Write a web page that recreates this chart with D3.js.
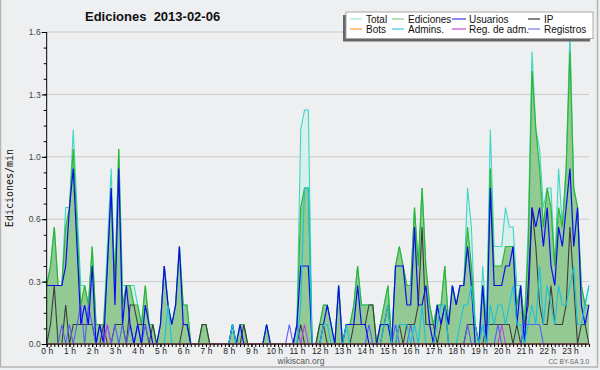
<!DOCTYPE html>
<html>
<head>
<meta charset="utf-8">
<script src="https://cdn.jsdelivr.net/npm/d3@7"></script>
<style>
  body { margin: 0; background: #eeeff1; }
  svg { display: block; }
</style>
</head>
<body>
<div id="chart-container"></div>
<script>
// edits per minute, one value every 10 minutes (6 per hour, 144 per day)
const total = [
    0.3, 0.4, 0.6, 0.3, 0.3, 0.7,   0.7, 1.1, 0.7, 0.3, 0.3, 0.2,
    0.5, 0.1, 0.1, 0.1, 0.5, 0.9,   0.3, 1.0, 0.3, 0.3, 0.3, 0.3,
    0.2, 0.1, 0.3, 0.1, 0.1, 0,     0.1, 0.4, 0.2, 0.1, 0.2, 0.5,
    0.2, 0.2, 0, 0, 0, 0.1,         0.1, 0, 0, 0, 0, 0,
    0, 0.1, 0, 0.1, 0.1, 0,         0, 0, 0, 0, 0.1, 0,
    0, 0, 0, 0, 0, 0,               0.1, 1.1, 1.2, 1.2, 0, 0,
    0.1, 0.2, 0.2, 0.1, 0, 0.3,     0, 0.1, 0.1, 0.2, 0.4, 0.2,
    0.2, 0.2, 0.2, 0, 0.1, 0.2,     0.3, 0, 0.4, 0.5, 0.4, 0.3,
    0.3, 0.7, 0.4, 0.8, 0.4, 0.2,   0.1, 0.2, 0.2, 0.4, 0.1, 0.3,
    0.2, 0.3, 0.3, 0.8, 0.6, 0.1,   0, 0.4, 0.1, 1.1, 0.5, 0.5,
    0.5, 0.7, 0.6, 0.6, 0.3, 0.3,   0.1, 0.6, 1.5, 1.1, 1.0, 0.7,
    0.8, 0.8, 0.4, 0.9, 0.6, 0.9,   1.6, 0.8, 0.7, 0.3, 0.2, 0.3
];
const ediciones = [
    0.3, 0.4, 0.6, 0.3, 0.3, 0.6,   0.7, 1.0, 0.6, 0.2, 0.3, 0.2,
    0.5, 0.1, 0.1, 0.1, 0.4, 0.8,   0.3, 1.0, 0.2, 0.3, 0.3, 0.2,
    0.2, 0.1, 0.3, 0.1, 0.1, 0,     0.1, 0.4, 0.2, 0.1, 0.2, 0.5,
    0.2, 0.2, 0, 0, 0, 0.1,         0.1, 0, 0, 0, 0, 0,
    0, 0.1, 0, 0.1, 0.1, 0,         0, 0, 0, 0, 0.1, 0,
    0, 0, 0, 0, 0, 0,               0.1, 0.7, 0.8, 0.8, 0, 0,
    0.1, 0.2, 0.2, 0.1, 0, 0.3,     0, 0.1, 0.1, 0.2, 0.4, 0.2,
    0.2, 0.2, 0.2, 0, 0.1, 0.2,     0.3, 0, 0.4, 0.5, 0.4, 0.3,
    0.3, 0.7, 0.4, 0.8, 0.4, 0.2,   0.1, 0.2, 0.2, 0.4, 0.1, 0.3,
    0.2, 0.3, 0.3, 0.6, 0.4, 0.1,   0, 0.3, 0.1, 0.9, 0.4, 0.4,
    0.4, 0.5, 0.5, 0.5, 0.2, 0.3,   0.1, 0.5, 1.4, 1.1, 0.9, 0.6,
    0.8, 0.7, 0.4, 0.7, 0.6, 0.9,   1.5, 0.8, 0.7, 0.3, 0.2, 0.2
];
const usuarios = [
    0.3, 0.3, 0.3, 0.3, 0.3, 0.4,   0.7, 0.9, 0.5, 0.1, 0.2, 0.1,
    0.4, 0, 0.1, 0, 0.4, 0.8,       0.2, 0.9, 0.1, 0.3, 0.1, 0,
    0.1, 0, 0.2, 0.1, 0, 0,         0.1, 0.4, 0.2, 0.1, 0.2, 0.5,
    0.1, 0.1, 0, 0, 0, 0,           0, 0, 0, 0, 0, 0,
    0, 0.1, 0, 0.1, 0, 0,           0, 0, 0, 0, 0.1, 0,
    0, 0, 0, 0, 0, 0,               0.1, 0.4, 0.4, 0.4, 0, 0,
    0, 0.1, 0.2, 0.1, 0, 0.3,       0, 0.1, 0.1, 0.1, 0.3, 0.1,
    0.1, 0, 0, 0, 0.1, 0.1,         0.1, 0, 0.4, 0.4, 0.4, 0.2,
    0.2, 0.6, 0.2, 0.2, 0.3, 0.1,   0, 0.2, 0.1, 0.2, 0.1, 0.3,
    0.2, 0.3, 0.3, 0.5, 0.3, 0,     0, 0.3, 0, 0.8, 0.3, 0.3,
    0.3, 0.4, 0.4, 0.5, 0.1, 0.3,   0, 0.3, 0.7, 0.6, 0.7, 0.5,
    0.7, 0.4, 0.3, 0.6, 0.5, 0.7,   0.9, 0.5, 0.7, 0.2, 0.1, 0.2
];
const ip = [
    0, 0.1, 0.3, 0, 0, 0.2,         0, 0.1, 0.1, 0.1, 0.1, 0.1,
    0.1, 0, 0, 0.1, 0, 0,           0.1, 0.1, 0.1, 0, 0.2, 0.2,
    0.1, 0.1, 0.1, 0, 0.1, 0,       0, 0, 0, 0, 0, 0,
    0.1, 0.1, 0, 0, 0, 0.1,         0.1, 0, 0, 0, 0, 0,
    0, 0, 0, 0, 0.1, 0,             0, 0, 0, 0, 0, 0,
    0, 0, 0, 0, 0, 0,               0, 0.1, 0, 0, 0, 0,
    0.1, 0.1, 0, 0, 0, 0,           0, 0, 0, 0.1, 0.1, 0.1,
    0.1, 0.2, 0.2, 0, 0, 0.1,       0.2, 0, 0, 0.1, 0, 0.1,
    0.1, 0.1, 0.2, 0.6, 0.1, 0.1,   0.1, 0, 0.1, 0.2, 0, 0,
    0, 0, 0, 0.1, 0.1, 0.1,         0, 0, 0.1, 0.1, 0.1, 0.1,
    0.1, 0.1, 0.1, 0, 0.1, 0,       0.1, 0.2, 0.7, 0.5, 0.2, 0.1,
    0.1, 0.3, 0.1, 0.1, 0.1, 0.2,   0.6, 0.3, 0, 0.1, 0.1, 0
];
const bots = new Array(144).fill(0);
const admins = [
    0, 0, 0, 0, 0, 0,               0, 0, 0, 0, 0, 0,
    0, 0, 0, 0, 0, 0,               0, 0, 0, 0, 0, 0,
    0, 0, 0, 0, 0, 0,               0, 0, 0.2, 0, 0, 0,
    0, 0, 0, 0, 0, 0,               0, 0, 0, 0, 0, 0,
    0, 0.1, 0, 0, 0, 0,             0, 0, 0, 0, 0, 0,
    0, 0, 0, 0, 0, 0,               0, 0.2, 0.8, 0.8, 0, 0,
    0, 0.1, 0.1, 0, 0, 0,           0, 0.1, 0, 0, 0, 0,
    0, 0, 0, 0, 0, 0.1,             0.2, 0, 0, 0.1, 0.1, 0.1,
    0, 0.1, 0, 0.2, 0, 0,           0, 0.1, 0.2, 0.2, 0, 0,
    0, 0.1, 0.2, 0.2, 0.3, 0.1,     0, 0.1, 0, 0.2, 0.1, 0.2,
    0.2, 0.1, 0.2, 0.3, 0.1, 0.1,   0, 0.1, 0.2, 0.1, 0.4, 0.1,
    0.3, 0.2, 0.1, 0.3, 0.2, 0.2,   0.3, 0.4, 0.1, 0.1, 0.2, 0.3
];
const regAdm = [
    0, 0, 0, 0, 0, 0,               0, 0, 0, 0, 0, 0,
    0, 0, 0, 0, 0.1, 0,             0, 0, 0, 0, 0, 0,
    0, 0, 0, 0, 0, 0,               0, 0, 0, 0, 0, 0,
    0, 0, 0, 0, 0, 0,               0, 0, 0, 0, 0, 0,
    0, 0, 0, 0, 0, 0,               0, 0, 0, 0, 0, 0,
    0, 0, 0, 0, 0, 0,               0, 0, 0.1, 0, 0, 0,
    0, 0, 0, 0, 0, 0,               0, 0, 0, 0, 0, 0,
    0, 0, 0, 0, 0, 0,               0, 0, 0, 0, 0, 0,
    0, 0, 0, 0, 0, 0,               0, 0, 0, 0, 0, 0,
    0, 0, 0, 0, 0, 0,               0, 0, 0, 0, 0, 0,
    0.1, 0, 0, 0, 0, 0,             0, 0, 0, 0, 0, 0,
    0, 0, 0, 0, 0, 0,               0, 0, 0, 0, 0, 0
];
const registros = [
    0, 0, 0, 0, 0.1, 0,             0.1, 0, 0.1, 0.2, 0, 0.2,
    0.1, 0, 0.1, 0, 0.1, 0,         0.1, 0, 0.1, 0, 0.1, 0,
    0.1, 0, 0.1, 0, 0, 0,           0, 0, 0, 0, 0, 0,
    0, 0, 0, 0, 0, 0,               0, 0, 0, 0, 0, 0,
    0, 0, 0, 0, 0, 0,               0, 0, 0, 0, 0, 0,
    0, 0, 0, 0, 0.1, 0,             0.1, 0, 0, 0, 0, 0,
    0, 0, 0, 0, 0, 0,               0, 0, 0, 0, 0, 0,
    0, 0.1, 0, 0, 0, 0,             0, 0, 0.1, 0, 0, 0,
    0.1, 0, 0, 0, 0, 0,             0, 0, 0, 0, 0, 0,
    0, 0, 0, 0.1, 0, 0,             0, 0.1, 0, 0, 0, 0.1,
    0, 0, 0, 0, 0, 0,               0.1, 0.1, 0.1, 0.1, 0.1, 0,
    0, 0, 0, 0, 0, 0,               0, 0, 0, 0, 0, 0
];

const hourLabels = ["0 h", "1 h", "2 h", "3 h", "4 h", "5 h", "6 h", "7 h", "8 h", "9 h", "10 h", "11 h",
    "12 h", "13 h", "14 h", "15 h", "16 h", "17 h", "18 h", "19 h", "20 h", "21 h", "22 h", "23 h"];
const yTicks = [0, 0.32, 0.64, 0.96, 1.28, 1.6];
const yTickLabels = ["0.0", "0.3", "0.6", "1.0", "1.3", "1.6"];

const legendItems = [
    { name: "Total", color: "#9fe6dc" }, { name: "Ediciones", color: "#7fd07f" },
    { name: "Usuarios", color: "#3a3ae6" }, { name: "IP", color: "#333333" },
    { name: "Bots", color: "#ff9a30" }, { name: "Admins.", color: "#38c8e0" },
    { name: "Reg. de adm.", color: "#cc44e0" }, { name: "Registros", color: "#7878f0" }
];

const width = 600, height = 370;
const slots = d3.range(144).map(i => i / 6); // hours of day, every 10 min

const svg = d3.select("#chart-container")
    .append("svg")
    .attr("width", width)
    .attr("height", height)
    .style("font-family", "'Liberation Sans', Arial, sans-serif");

// frame
svg.append("rect")
    .attr("x", 0.5).attr("y", -2)
    .attr("width", 597).attr("height", 369)
    .attr("fill", "#eeeff1")
    .attr("stroke", "#b4b4b4")
    .attr("stroke-width", 1.5);

const x = d3.scaleLinear().domain([0, 24]).range([46.7, 592.7]);
const y = d3.scaleLinear().domain([0, 1.6]).range([344, 32]);

// grid
svg.append("g")
    .selectAll("line")
    .data(yTicks.slice(1))
    .enter()
    .append("line")
    .attr("x1", x(0)).attr("x2", x(slots[143]))
    .attr("y1", d => y(d)).attr("y2", d => y(d))
    .attr("stroke", "#c9c9c9")
    .attr("stroke-width", 1);

function area(values) {
    return d3.area()
        .x((d, i) => x(slots[i]))
        .y0(y(0))
        .y1(d => y(d))(values);
}
function line(values) {
    return d3.line()
        .x((d, i) => x(slots[i]))
        .y(d => y(d))(values);
}

svg.append("path").attr("d", area(total)).attr("fill", "#d4f0ea").attr("opacity", 0.9);
svg.append("path").attr("d", area(ediciones)).attr("fill", "#93c993");

const series = [
    { values: total, color: "#3fd6c6", w: 1.1 },
    { values: ediciones, color: "#2fb52f", w: 1.2 },
    { values: ip, color: "#3c3c3c", w: 1.1 },
    { values: registros, color: "#5a5af6", w: 1.1 },
    { values: usuarios, color: "#0b0bf0", w: 1.2 },
    { values: admins, color: "#1ac2dc", w: 1.1 },
    { values: regAdm, color: "#c03ee6", w: 1.1 },
    { values: bots, color: "#ff9a30", w: 1.1 }
];
series.forEach(s => {
    svg.append("path")
        .attr("d", line(s.values))
        .attr("fill", "none")
        .attr("stroke", s.color)
        .attr("stroke-width", s.w)
        .attr("stroke-linejoin", "miter");
});

// x axis: minor ticks every 10 min, labels every hour
const xMinor = svg.append("g")
    .attr("transform", "translate(0,344)")
    .call(d3.axisBottom(x).tickValues(slots).tickSize(3).tickFormat(""));
xMinor.select(".domain").attr("d", `M${x(0)},0H${x(slots[143])}`);
const xAxis = svg.append("g")
    .attr("transform", "translate(0,344)")
    .call(d3.axisBottom(x).tickValues(d3.range(24)).tickSize(3).tickPadding(0.5)
        .tickFormat(d => hourLabels[d]));
xAxis.select(".domain").remove();
xAxis.selectAll("text").attr("font-size", 8.5).attr("fill", "#222").attr("font-family", "'Liberation Sans', Arial, sans-serif");

// y axis
const yMinor = svg.append("g")
    .attr("transform", `translate(${x(0)},0)`)
    .call(d3.axisLeft(y).tickValues(d3.range(21).map(i => i * 0.08)).tickSize(3).tickFormat(""));
yMinor.select(".domain").attr("d", `M0,${y(0)}V${y(1.6)}`);
const yAxis = svg.append("g")
    .attr("transform", `translate(${x(0)},0)`)
    .call(d3.axisLeft(y).tickValues(yTicks).tickSize(5).tickPadding(1)
        .tickFormat((d, i) => yTickLabels[i]));
yAxis.select(".domain").remove();
yAxis.selectAll("text").attr("font-size", 8.5).attr("fill", "#444").attr("font-family", "'Liberation Sans', Arial, sans-serif");

// title and labels
svg.append("text")
    .attr("x", 85).attr("y", 21)
    .attr("font-size", 13).attr("font-weight", "bold").attr("fill", "#111")
    .style("white-space", "pre")
    .text("Ediciones  2013-02-06");

svg.append("text")
    .attr("transform", "translate(13,188) rotate(-90)")
    .attr("text-anchor", "middle")
    .attr("font-size", 10).attr("fill", "#111")
    .attr("font-family", "'DejaVu Sans Mono', monospace")
    .text("Ediciones/min");

svg.append("text")
    .attr("x", 301).attr("y", 364)
    .attr("text-anchor", "middle")
    .attr("font-size", 8.5).attr("fill", "#555")
    .text("wikiscan.org");

svg.append("text")
    .attr("x", 589).attr("y", 364)
    .attr("text-anchor", "end")
    .attr("font-size", 6.5).attr("fill", "#666")
    .text("CC BY-SA 3.0");

// legend
const legend = svg.append("g");
legend.append("rect")
    .attr("x", 343).attr("y", 15).attr("width", 247).attr("height", 26.5)
    .attr("fill", "#666");
legend.append("rect")
    .attr("x", 346).attr("y", 12).attr("width", 247).attr("height", 26.5)
    .attr("fill", "#fff").attr("stroke", "#a8a8a8").attr("stroke-width", 1);

const colX = [350, 392, 452, 528];
const item = legend.selectAll(".item")
    .data(legendItems)
    .enter()
    .append("g")
    .attr("transform", (d, i) => `translate(${colX[i % 4]},${i < 4 ? 19 : 29})`);
item.append("line")
    .attr("x1", 0).attr("x2", (d, i) => (i % 4 === 2 ? 14 : 12))
    .attr("stroke", d => d.color).attr("stroke-width", 1.2);
item.append("text")
    .attr("x", (d, i) => (i % 4 === 2 ? 17 : 16)).attr("y", 3.6)
    .attr("font-size", 10).attr("fill", "#111")
    .text(d => d.name);
</script>
</body>
</html>
